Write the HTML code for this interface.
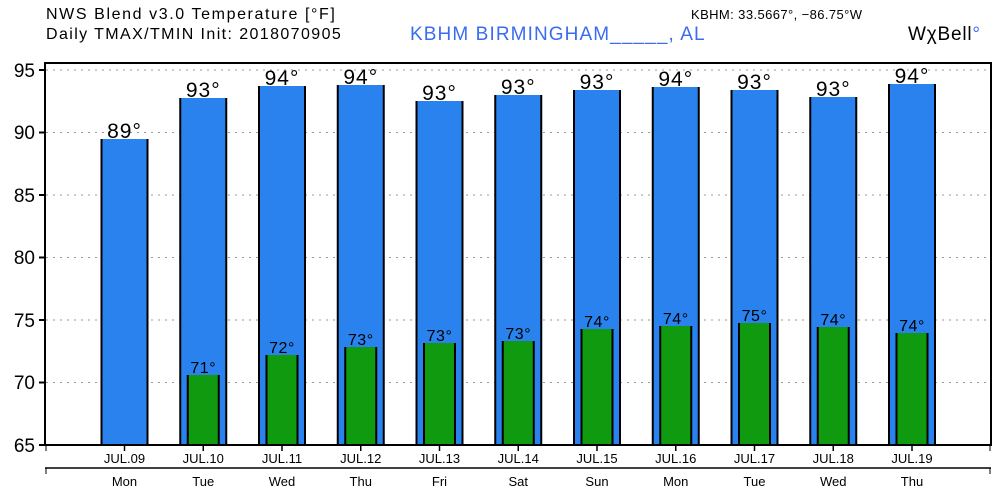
<!DOCTYPE html><html><head><style>body{margin:0;background:#fff}svg{display:block}text{font-family:"Liberation Sans",sans-serif}</style></head><body>
<svg width="1000" height="500" xmlns="http://www.w3.org/2000/svg">
<text x="46" y="19" font-size="16" letter-spacing="1.6">NWS Blend v3.0 Temperature [°F]</text>
<text x="46" y="39" font-size="16" letter-spacing="1.4">Daily TMAX/TMIN Init: 2018070905</text>
<text x="410" y="40" font-size="19" fill="#3a6cf0" letter-spacing="1.1">KBHM BIRMINGHAM_____, AL</text>
<text x="691" y="19" font-size="13" letter-spacing="0.4">KBHM: 33.5667°, −86.75°W</text>
<text x="908" y="40" font-size="19" letter-spacing="0.8">WχBell<tspan fill="#3a6cf0">°</tspan></text>
<g stroke="#999" stroke-dasharray="2,5" stroke-width="1">
<line x1="46" x2="990" y1="70" y2="70"/><line x1="46" x2="990" y1="132.5" y2="132.5"/><line x1="46" x2="990" y1="195" y2="195"/><line x1="46" x2="990" y1="257.5" y2="257.5"/><line x1="46" x2="990" y1="320" y2="320"/><line x1="46" x2="990" y1="382.5" y2="382.5"/></g>
<g font-size="19" text-anchor="end"><text x="35" y="77">95</text><text x="35" y="139">90</text><text x="35" y="202">85</text><text x="35" y="264">80</text><text x="35" y="327">75</text><text x="35" y="389">70</text><text x="35" y="452">65</text></g>
<g stroke="#000" stroke-width="2"><line x1="39" x2="45" y1="70" y2="70"/><line x1="39" x2="45" y1="132.5" y2="132.5"/><line x1="39" x2="45" y1="195" y2="195"/><line x1="39" x2="45" y1="257.5" y2="257.5"/><line x1="39" x2="45" y1="320" y2="320"/><line x1="39" x2="45" y1="382.5" y2="382.5"/><line x1="39" x2="45" y1="445" y2="445"/></g>
<g id="bars"></g>
<rect x="45" y="63" width="946" height="382" fill="none" stroke="#000" stroke-width="2"/>
<line x1="45" x2="991" y1="468" y2="468" stroke="#000" stroke-width="1.5"/>
<g id="ax"></g>
</svg>
<script>
var b=[139,98,86,85,101,95,90,87,90,97,84],g=[0,375,355,347,343,341,329,326,323,327,333];
var bl=[89,93,94,94,93,93,93,94,93,93,94],gl=[0,71,72,73,73,73,74,74,75,74,74];
var d=["09","10","11","12","13","14","15","16","17","18","19"],w=["Mon","Tue","Wed","Thu","Fri","Sat","Sun","Mon","Tue","Wed","Thu"];
var s="",a="";
for(var i=0;i<11;i++){var c=124.5+i*78.75;
s+='<rect x="'+(c-23)+'" y="'+b[i]+'" width="46" height="'+(445-b[i])+'" fill="#2a82ee"/>';
s+='<line x1="'+(c-23)+'" x2="'+(c-23)+'" y1="'+b[i]+'" y2="445" stroke="#000" stroke-width="2"/><line x1="'+(c+23)+'" x2="'+(c+23)+'" y1="'+b[i]+'" y2="445" stroke="#000" stroke-width="2"/>';
s+='<text x="'+c+'" y="'+(b[i]-1)+'" font-size="21" letter-spacing="1" text-anchor="middle">'+bl[i]+'°</text>';
if(g[i]){s+='<rect x="'+(c-15.5)+'" y="'+g[i]+'" width="31" height="'+(445-g[i])+'" fill="#0f9a10"/><line x1="'+(c-15.5)+'" x2="'+(c-15.5)+'" y1="'+g[i]+'" y2="445" stroke="#000" stroke-width="2"/><line x1="'+(c+15.5)+'" x2="'+(c+15.5)+'" y1="'+g[i]+'" y2="445" stroke="#000" stroke-width="2"/>';
s+='<text x="'+c+'" y="'+(g[i]-2)+'" font-size="16" letter-spacing="0.5" text-anchor="middle">'+gl[i]+'°</text>';}
a+='<line x1="'+c+'" x2="'+c+'" y1="445" y2="451" stroke="#000" stroke-width="1.5"/><text x="'+c+'" y="463" font-size="13" text-anchor="middle">JUL.'+d[i]+'</text><text x="'+c+'" y="486" font-size="13" text-anchor="middle">'+w[i]+'</text>';}
a+='<line x1="46" x2="46" y1="445" y2="451" stroke="#000"/><line x1="990" x2="990" y1="445" y2="451" stroke="#000"/><line x1="46" x2="46" y1="468" y2="474" stroke="#000"/><line x1="990" x2="990" y1="468" y2="474" stroke="#000"/>';
document.getElementById("bars").innerHTML=s;document.getElementById("ax").innerHTML=a;
</script></body></html>
